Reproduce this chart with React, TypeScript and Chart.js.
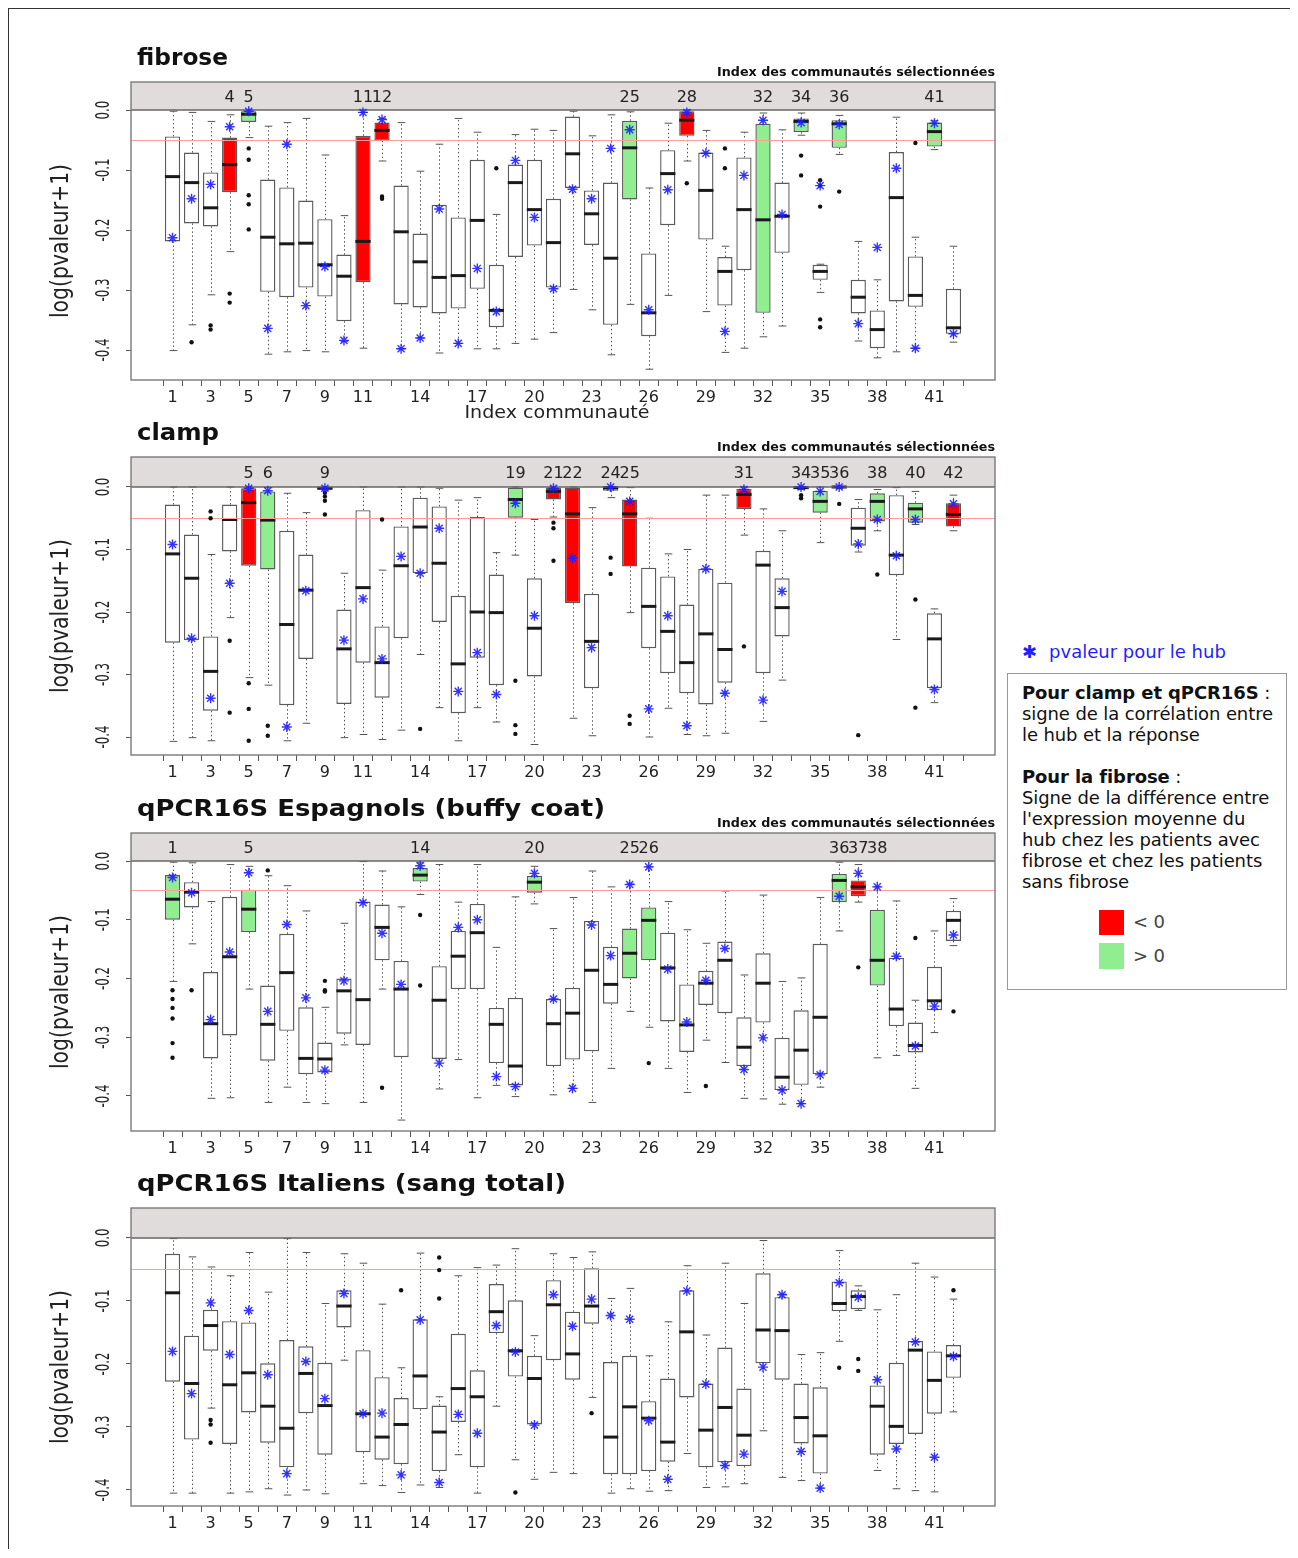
import React, { useEffect, useRef } from "react";
import { Chart, registerables } from "chart.js";

Chart.register(...registerables);

// ---------- shared axis data ----------
const CATEGORIES = [1, 2, 3, 4, 5, 6, 7, 8, 9, 10, 11, 12, 13, 14, 15, 16, 17, 18, 19, 20, 21, 22, 23, 24, 25, 26, 27, 28, 29, 30, 31, 32, 33, 34, 35, 36, 37, 38, 39, 40, 41, 42];
const X_TICK_LABELS = [1, 3, 5, 7, 9, 11, 14, 17, 20, 23, 26, 29, 32, 35, 38, 41];
const Y_TICKS = [0, -0.1, -0.2, -0.3, -0.4];
const THRESHOLD = -0.05;

// ---------- fibrose ----------
const FIB_LO = [-0.401, -0.358, -0.308, -0.236, -0.046, -0.407, -0.403, -0.401, -0.403, -0.386, -0.397, -0.085, -0.398, -0.380, -0.405, -0.389, -0.398, -0.398, -0.389, -0.382, -0.371, -0.299, -0.333, -0.408, -0.324, -0.432, -0.309, -0.085, -0.336, -0.404, -0.397, -0.378, -0.360, -0.042, -0.304, -0.074, -0.385, -0.413, -0.403, -0.397, -0.066, -0.387];
const FIB_Q1 = [-0.219, -0.189, -0.194, -0.137, -0.020, -0.303, -0.312, -0.296, -0.311, -0.352, -0.287, -0.051, -0.324, -0.329, -0.339, -0.331, -0.298, -0.362, -0.245, -0.226, -0.296, -0.130, -0.225, -0.358, -0.149, -0.377, -0.192, -0.043, -0.216, -0.326, -0.267, -0.338, -0.238, -0.037, -0.283, -0.063, -0.339, -0.397, -0.319, -0.328, -0.061, -0.373];
const FIB_MED = [-0.111, -0.121, -0.163, -0.091, -0.007, -0.212, -0.223, -0.222, -0.258, -0.277, -0.219, -0.034, -0.203, -0.253, -0.279, -0.276, -0.184, -0.334, -0.121, -0.166, -0.221, -0.073, -0.173, -0.247, -0.063, -0.338, -0.106, -0.017, -0.134, -0.269, -0.166, -0.183, -0.177, -0.019, -0.269, -0.023, -0.312, -0.366, -0.146, -0.309, -0.036, -0.363];
const FIB_Q3 = [-0.044, -0.071, -0.104, -0.046, -0.002, -0.116, -0.129, -0.151, -0.182, -0.241, -0.043, -0.021, -0.126, -0.206, -0.158, -0.179, -0.083, -0.258, -0.091, -0.083, -0.148, -0.011, -0.134, -0.121, -0.018, -0.239, -0.067, -0.002, -0.071, -0.245, -0.079, -0.023, -0.121, -0.014, -0.258, -0.017, -0.283, -0.334, -0.070, -0.244, -0.021, -0.298];
const FIB_HI = [-0.002, -0.004, -0.019, -0.008, 0, -0.027, -0.021, -0.014, -0.075, -0.176, -0.004, -0.014, -0.021, -0.102, -0.057, -0.014, -0.037, -0.174, -0.041, -0.032, -0.034, -0.002, -0.043, -0.008, -0.003, -0.130, -0.022, 0, -0.034, -0.227, -0.037, -0.005, -0.033, -0.005, -0.257, -0.009, -0.219, -0.283, -0.012, -0.212, -0.018, -0.227];
const FIB_HUB = [-0.213, -0.148, -0.124, -0.028, -0.002, -0.364, -0.057, -0.326, -0.261, -0.384, -0.004, -0.016, -0.398, -0.380, -0.165, -0.389, -0.264, -0.336, -0.084, -0.179, -0.298, -0.132, -0.148, -0.064, -0.033, -0.333, -0.133, -0.004, -0.072, -0.369, -0.109, -0.017, -0.174, -0.021, -0.126, -0.024, -0.356, -0.229, -0.097, -0.397, -0.022, -0.373];
const FIB_OUT = [[2, -0.387], [3, -0.359], [3, -0.366], [4, -0.306], [4, -0.321], [5, -0.064], [5, -0.083], [5, -0.142], [5, -0.157], [5, -0.199], [12, -0.144], [12, -0.148], [18, -0.097], [28, -0.122], [30, -0.064], [30, -0.097], [34, -0.076], [34, -0.109], [35, -0.117], [35, -0.126], [35, -0.161], [35, -0.349], [35, -0.362], [36, -0.136], [40, -0.055]];
const FIB_NEG = [4, 11, 12, 28];
const FIB_POS = [5, 25, 32, 34, 36, 41];

// ---------- clamp ----------
const CLA_LO = [-0.407, -0.401, -0.406, -0.209, -0.305, -0.317, -0.406, -0.378, -0.005, -0.401, -0.396, -0.404, -0.389, -0.268, -0.353, -0.406, -0.353, -0.376, -0.109, -0.412, -0.048, -0.370, -0.398, -0.017, -0.201, -0.400, -0.354, -0.396, -0.398, -0.394, -0.077, -0.375, -0.309, -0.004, -0.089, -0.002, -0.104, -0.070, -0.244, -0.060, -0.345, -0.070];
const CLA_Q1 = [-0.249, -0.245, -0.358, -0.103, -0.126, -0.132, -0.349, -0.275, -0.004, -0.347, -0.281, -0.337, -0.242, -0.138, -0.216, -0.362, -0.273, -0.317, -0.049, -0.303, -0.020, -0.186, -0.322, -0.006, -0.127, -0.258, -0.298, -0.330, -0.348, -0.313, -0.035, -0.298, -0.239, -0.003, -0.041, -0.001, -0.094, -0.055, -0.141, -0.057, -0.322, -0.063];
const CLA_MED = [-0.107, -0.146, -0.295, -0.052, -0.025, -0.053, -0.220, -0.165, -0.002, -0.259, -0.161, -0.281, -0.126, -0.064, -0.122, -0.283, -0.200, -0.201, -0.020, -0.226, -0.007, -0.043, -0.247, -0.001, -0.043, -0.191, -0.231, -0.281, -0.235, -0.260, -0.012, -0.125, -0.193, -0.001, -0.023, 0, -0.066, -0.023, -0.109, -0.035, -0.243, -0.044];
const CLA_Q3 = [-0.028, -0.076, -0.239, -0.028, -0.002, -0.007, -0.070, -0.108, 0, -0.196, -0.037, -0.223, -0.063, -0.017, -0.031, -0.174, -0.048, -0.140, -0.001, -0.146, 0, 0, -0.171, 0, -0.020, -0.129, -0.143, -0.188, -0.131, -0.153, -0.003, -0.102, -0.146, 0, -0.006, 0, -0.033, -0.010, -0.013, -0.025, -0.202, -0.026];
const CLA_HI = [0, 0, -0.108, 0, -0.001, -0.001, -0.010, -0.041, 0, -0.138, 0, -0.133, 0, 0, -0.002, -0.021, -0.017, -0.105, 0, -0.052, 0, 0, -0.033, 0, -0.001, -0.050, -0.107, -0.100, -0.013, -0.013, 0, -0.035, -0.070, 0, 0, 0, -0.020, -0.004, -0.001, -0.007, -0.195, -0.013];
const CLA_HUB = [-0.092, -0.242, -0.338, -0.154, -0.002, -0.006, -0.384, -0.166, -0.002, -0.245, -0.179, -0.275, -0.111, -0.138, -0.066, -0.327, -0.265, -0.332, -0.026, -0.206, -0.002, -0.114, -0.257, 0, -0.023, -0.355, -0.206, -0.382, -0.131, -0.330, -0.004, -0.341, -0.167, 0, -0.007, 0, -0.091, -0.052, -0.110, -0.052, -0.324, -0.027];
const CLA_OUT = [[3, -0.039], [3, -0.050], [4, -0.246], [4, -0.361], [5, -0.314], [5, -0.355], [5, -0.406], [6, -0.382], [6, -0.398], [9, -0.009], [9, -0.015], [9, -0.022], [9, -0.044], [12, -0.052], [14, -0.387], [19, -0.310], [19, -0.381], [19, -0.395], [21, -0.057], [21, -0.066], [21, -0.118], [24, -0.113], [24, -0.139], [25, -0.366], [25, -0.379], [31, -0.255], [34, -0.013], [34, -0.018], [36, -0.027], [37, -0.397], [38, -0.140], [40, -0.180], [40, -0.353]];
const CLA_NEG = [5, 9, 21, 22, 25, 31, 34, 36, 42];
const CLA_POS = [6, 19, 24, 35, 38, 40];

// ---------- qPCR16S Espagnols ----------
const ESP_LO = [-0.205, -0.141, -0.404, -0.403, -0.218, -0.411, -0.385, -0.411, -0.413, -0.313, -0.411, -0.218, -0.441, -0.057, -0.388, -0.338, -0.403, -0.382, -0.401, -0.073, -0.398, -0.387, -0.411, -0.353, -0.256, -0.283, -0.353, -0.394, -0.305, -0.343, -0.404, -0.405, -0.414, -0.413, -0.385, -0.119, -0.070, -0.335, -0.331, -0.387, -0.292, -0.144];
const ESP_Q1 = [-0.100, -0.079, -0.336, -0.297, -0.121, -0.340, -0.289, -0.363, -0.360, -0.294, -0.313, -0.169, -0.334, -0.035, -0.337, -0.218, -0.218, -0.344, -0.382, -0.054, -0.349, -0.338, -0.324, -0.243, -0.200, -0.169, -0.273, -0.325, -0.245, -0.259, -0.349, -0.275, -0.390, -0.381, -0.363, -0.070, -0.060, -0.212, -0.281, -0.326, -0.254, -0.136];
const ESP_MED = [-0.065, -0.053, -0.277, -0.163, -0.082, -0.278, -0.190, -0.336, -0.337, -0.221, -0.236, -0.113, -0.218, -0.024, -0.237, -0.162, -0.122, -0.278, -0.349, -0.036, -0.277, -0.259, -0.186, -0.210, -0.157, -0.101, -0.182, -0.279, -0.208, -0.169, -0.317, -0.208, -0.368, -0.322, -0.266, -0.033, -0.044, -0.169, -0.252, -0.314, -0.238, -0.101];
const ESP_Q3 = [-0.024, -0.036, -0.189, -0.061, -0.049, -0.212, -0.124, -0.249, -0.309, -0.200, -0.069, -0.074, -0.170, -0.012, -0.179, -0.119, -0.073, -0.250, -0.233, -0.025, -0.235, -0.216, -0.102, -0.146, -0.115, -0.079, -0.122, -0.210, -0.187, -0.137, -0.266, -0.157, -0.301, -0.254, -0.141, -0.022, -0.033, -0.083, -0.165, -0.275, -0.180, -0.085];
const ESP_HI = [-0.002, -0.003, -0.069, -0.006, -0.009, -0.025, -0.042, -0.085, -0.249, -0.106, -0.001, -0.017, -0.078, -0.003, -0.006, -0.070, -0.006, -0.147, -0.061, -0.009, -0.115, -0.062, -0.017, -0.044, -0.039, -0.010, -0.069, -0.117, -0.140, -0.051, -0.194, -0.058, -0.205, -0.199, -0.062, -0.002, -0.006, -0.044, -0.068, -0.237, -0.119, -0.064];
const ESP_HUB = [-0.028, -0.054, -0.270, -0.155, -0.020, -0.256, -0.108, -0.233, -0.356, -0.204, -0.071, -0.123, -0.210, -0.008, -0.344, -0.113, -0.100, -0.367, -0.384, -0.021, -0.235, -0.387, -0.109, -0.161, -0.040, -0.010, -0.184, -0.274, -0.203, -0.149, -0.355, -0.301, -0.390, -0.413, -0.364, -0.060, -0.021, -0.044, -0.162, -0.315, -0.247, -0.126];
const ESP_OUT = [[1, -0.220], [1, -0.235], [1, -0.250], [1, -0.268], [1, -0.310], [1, -0.335], [2, -0.220], [6, -0.016], [9, -0.204], [9, -0.220], [9, -0.222], [12, -0.386], [14, -0.092], [14, -0.212], [26, -0.344], [29, -0.383], [37, -0.181], [40, -0.131], [42, -0.256]];
const ESP_NEG = [37];
const ESP_POS = [1, 5, 14, 20, 25, 26, 36, 38];

// ---------- qPCR16S Italiens ----------
const ITA_LO = [-0.405, -0.405, -0.270, -0.405, -0.403, -0.398, -0.408, -0.400, -0.406, -0.194, -0.390, -0.393, -0.404, -0.392, -0.396, -0.344, -0.405, -0.267, -0.352, -0.383, -0.372, -0.374, -0.253, -0.405, -0.398, -0.402, -0.401, -0.342, -0.396, -0.395, -0.390, -0.306, -0.380, -0.385, -0.397, -0.164, -0.115, -0.369, -0.398, -0.401, -0.403, -0.276];
const ITA_Q1 = [-0.228, -0.320, -0.179, -0.327, -0.277, -0.325, -0.364, -0.278, -0.344, -0.142, -0.340, -0.352, -0.359, -0.272, -0.370, -0.292, -0.364, -0.151, -0.220, -0.296, -0.194, -0.225, -0.136, -0.375, -0.375, -0.370, -0.355, -0.253, -0.364, -0.356, -0.362, -0.199, -0.225, -0.326, -0.374, -0.116, -0.113, -0.344, -0.327, -0.311, -0.279, -0.222];
const ITA_MED = [-0.087, -0.231, -0.139, -0.233, -0.214, -0.267, -0.302, -0.215, -0.266, -0.108, -0.279, -0.316, -0.296, -0.219, -0.308, -0.239, -0.252, -0.117, -0.179, -0.223, -0.106, -0.184, -0.108, -0.316, -0.268, -0.286, -0.324, -0.149, -0.305, -0.269, -0.313, -0.146, -0.147, -0.285, -0.314, -0.104, -0.093, -0.267, -0.299, -0.178, -0.226, -0.187];
const ITA_Q3 = [-0.025, -0.155, -0.114, -0.132, -0.134, -0.199, -0.162, -0.172, -0.198, -0.083, -0.178, -0.221, -0.254, -0.129, -0.266, -0.152, -0.210, -0.073, -0.099, -0.187, -0.067, -0.117, -0.048, -0.197, -0.187, -0.259, -0.223, -0.083, -0.231, -0.174, -0.239, -0.056, -0.094, -0.231, -0.237, -0.069, -0.083, -0.234, -0.198, -0.163, -0.180, -0.170];
const ITA_HI = [-0.001, -0.030, -0.046, -0.060, -0.023, -0.086, -0.001, -0.023, -0.104, -0.025, -0.040, -0.105, -0.206, -0.024, -0.252, -0.060, -0.047, -0.043, -0.017, -0.155, -0.025, -0.031, -0.022, -0.096, -0.080, -0.187, -0.133, -0.044, -0.154, -0.040, -0.104, -0.004, -0.089, -0.185, -0.182, -0.020, -0.076, -0.114, -0.090, -0.040, -0.062, -0.097];
const ITA_HUB = [-0.180, -0.247, -0.103, -0.185, -0.115, -0.217, -0.374, -0.196, -0.255, -0.088, -0.279, -0.278, -0.376, -0.130, -0.388, -0.280, -0.310, -0.139, -0.181, -0.297, -0.090, -0.140, -0.097, -0.123, -0.129, -0.290, -0.383, -0.084, -0.232, -0.361, -0.343, -0.205, -0.090, -0.339, -0.397, -0.071, -0.094, -0.225, -0.335, -0.165, -0.348, -0.188];
const ITA_OUT = [[3, -0.289], [3, -0.296], [3, -0.325], [13, -0.083], [15, -0.031], [15, -0.051], [15, -0.096], [19, -0.404], [23, -0.278], [36, -0.206], [37, -0.192], [37, -0.211], [42, -0.083]];
const ITA_NEG: number[] = [];
const ITA_POS: number[] = [];

// ---------- styling ----------
const RED = "#FF0000";
const GREEN = "#90EE90";
const STRIP_FILL = "#E1DCDC";
const FRAME = "#7a7a7a";
const HUB_COLOR = "rgba(30,30,255,0.9)";
const FONT = '"DejaVu Sans", sans-serif';
const BOX_INDEX = 2;

const PANELS = [
  { key: "fib", title: "fibrose", titleW: 91, top: 82, yMin: -0.45, yMax: 0.0467, lo: FIB_LO, q1: FIB_Q1, med: FIB_MED, q3: FIB_Q3, hi: FIB_HI, hub: FIB_HUB, out: FIB_OUT, neg: FIB_NEG, pos: FIB_POS, caption: true, xTitle: "Index communauté" },
  { key: "cla", title: "clamp", titleW: 82, top: 457, yMin: -0.4288, yMax: 0.048, lo: CLA_LO, q1: CLA_Q1, med: CLA_MED, q3: CLA_Q3, hi: CLA_HI, hub: CLA_HUB, out: CLA_OUT, neg: CLA_NEG, pos: CLA_POS, caption: true, xTitle: "" },
  { key: "esp", title: "qPCR16S Espagnols (buffy coat)", titleW: 468, top: 833, yMin: -0.4596, yMax: 0.0477, lo: ESP_LO, q1: ESP_Q1, med: ESP_MED, q3: ESP_Q3, hi: ESP_HI, hub: ESP_HUB, out: ESP_OUT, neg: ESP_NEG, pos: ESP_POS, caption: true, xTitle: "" },
  { key: "ita", title: "qPCR16S Italiens (sang total)", titleW: 429, top: 1208, yMin: -0.4254, yMax: 0.0476, lo: ITA_LO, q1: ITA_Q1, med: ITA_MED, q3: ITA_Q3, hi: ITA_HI, hub: ITA_HUB, out: ITA_OUT, neg: ITA_NEG, pos: ITA_POS, caption: false, xTitle: "" },
];

function fitText(ctx: CanvasRenderingContext2D, text: string, x: number, y: number, width: number, align: CanvasTextAlign) {
  const w = ctx.measureText(text).width;
  ctx.save();
  ctx.translate(x, y);
  ctx.scale(width / w, 1);
  ctx.textAlign = align;
  ctx.fillText(text, 0, 0);
  ctx.restore();
}

function makePlugin(p: any) {
  return {
    id: "boxdecor-" + p.key,
    beforeDatasetsDraw(chart: any) {
      const { ctx, chartArea: a, scales } = chart;
      const xs = scales.x;
      const ys = scales.y;
      const y0 = ys.getPixelForValue(0);
      ctx.save();
      ctx.fillStyle = STRIP_FILL;
      ctx.fillRect(a.left, a.top, a.right - a.left, y0 - a.top);
      const meta = chart.getDatasetMeta(BOX_INDEX);
      ctx.strokeStyle = "#555";
      ctx.lineWidth = 1;
      CATEGORIES.forEach((c, i) => {
        const el = meta.data[i];
        const px = Math.round(xs.getPixelForValue(c)) + 0.5;
        const half = el.width / 4;
        const yHi = ys.getPixelForValue(p.hi[i]);
        const yQ3 = ys.getPixelForValue(p.q3[i]);
        const yQ1 = ys.getPixelForValue(p.q1[i]);
        const yLo = ys.getPixelForValue(p.lo[i]);
        ctx.setLineDash([1.5, 2.5]);
        ctx.beginPath();
        ctx.moveTo(px, yQ3);
        ctx.lineTo(px, yHi);
        ctx.moveTo(px, yQ1);
        ctx.lineTo(px, yLo);
        ctx.stroke();
        ctx.setLineDash([]);
        ctx.beginPath();
        ctx.moveTo(px - half, yHi);
        ctx.lineTo(px + half, yHi);
        ctx.moveTo(px - half, yLo);
        ctx.lineTo(px + half, yLo);
        ctx.stroke();
      });
      ctx.restore();
    },
    afterDatasetDraw(chart: any, args: any) {
      if (args.index !== BOX_INDEX) return;
      const { ctx, chartArea: a, scales } = chart;
      const ys = scales.y;
      const meta = chart.getDatasetMeta(BOX_INDEX);
      ctx.save();
      ctx.strokeStyle = "#1a1a1a";
      ctx.lineWidth = 3;
      CATEGORIES.forEach((c, i) => {
        const el = meta.data[i];
        const ym = ys.getPixelForValue(p.med[i]);
        ctx.beginPath();
        ctx.moveTo(el.x - el.width / 2, ym);
        ctx.lineTo(el.x + el.width / 2, ym);
        ctx.stroke();
      });
      // threshold line
      const yt = Math.round(ys.getPixelForValue(THRESHOLD)) + 0.5;
      ctx.strokeStyle = "#FF9C9C";
      ctx.lineWidth = 1;
      ctx.beginPath();
      ctx.moveTo(a.left, yt);
      ctx.lineTo(a.right, yt);
      ctx.stroke();
      // strip bottom line
      const y0 = ys.getPixelForValue(0);
      ctx.strokeStyle = "#666";
      ctx.lineWidth = 1.3;
      ctx.beginPath();
      ctx.moveTo(a.left, y0);
      ctx.lineTo(a.right, y0);
      ctx.stroke();
      ctx.restore();
    },
    afterDraw(chart: any) {
      const { ctx, chartArea: a, scales } = chart;
      const xs = scales.x;
      const ys = scales.y;
      const y0 = ys.getPixelForValue(0);
      ctx.save();
      // frame
      ctx.strokeStyle = FRAME;
      ctx.lineWidth = 1.4;
      ctx.strokeRect(a.left, a.top, a.right - a.left, a.bottom - a.top);
      // selected community labels
      ctx.fillStyle = "#222";
      ctx.font = `16px ${FONT}`;
      ctx.textAlign = "center";
      ctx.textBaseline = "middle";
      const sel = [...p.neg, ...p.pos].sort((m: number, n: number) => m - n);
      sel.forEach((c: number) => {
        ctx.fillText(String(c), xs.getPixelForValue(c), (a.top + y0) / 2 + 2);
      });
      // y tick labels (rotated)
      Y_TICKS.forEach((v) => {
        ctx.save();
        ctx.translate(a.left - 27, ys.getPixelForValue(v));
        ctx.rotate(-Math.PI / 2);
        ctx.scale(0.62, 1);
        ctx.font = `19px ${FONT}`;
        ctx.textAlign = "center";
        ctx.textBaseline = "middle";
        ctx.fillText(v.toFixed(1), 0, 0);
        ctx.restore();
      });
      // y title
      ctx.save();
      ctx.translate(a.left - 69, (a.top + a.bottom) / 2 + 10);
      ctx.rotate(-Math.PI / 2);
      ctx.scale(0.85, 1);
      ctx.font = `24px ${FONT}`;
      ctx.textAlign = "center";
      ctx.textBaseline = "middle";
      ctx.fillText("log(pvaleur+1)", 0, 0);
      ctx.restore();
      // panel title
      ctx.fillStyle = "#111";
      ctx.font = `bold 23px ${FONT}`;
      ctx.textBaseline = "middle";
      fitText(ctx, p.title, a.left + 6, a.top - 23, p.titleW, "left");
      // caption
      if (p.caption) {
        ctx.font = `bold 13px ${FONT}`;
        ctx.textBaseline = "middle";
        fitText(ctx, "Index des communautés sélectionnées", a.right, a.top - 9, 278, "right");
      }
      if (p.xTitle) {
        ctx.fillStyle = "#222";
        ctx.font = `17px ${FONT}`;
        ctx.textBaseline = "middle";
        fitText(ctx, p.xTitle, a.left + 426, a.bottom + 34, 185, "center");
      }
      ctx.restore();
    },
  };
}

function Panel({ p }: { p: any }) {
  const ref = useRef<HTMLCanvasElement>(null);
  useEffect(() => {
    const canvas = ref.current;
    if (!canvas) return;
    const boxColors = CATEGORIES.map((c) => (p.neg.includes(c) ? RED : p.pos.includes(c) ? GREEN : "#FFFFFF"));
    const chart = new Chart(canvas, {
      type: "bar",
      data: {
        datasets: [
          {
            type: "scatter",
            label: "hub",
            data: CATEGORIES.map((c, i) => ({ x: c, y: p.hub[i] })),
            pointStyle: "star",
            pointRadius: 5,
            borderColor: HUB_COLOR,
            backgroundColor: HUB_COLOR,
            borderWidth: 1.4,
            order: 0,
          },
          {
            type: "scatter",
            label: "outliers",
            data: p.out.map((o: number[]) => ({ x: o[0], y: o[1] })),
            pointStyle: "circle",
            pointRadius: 2.2,
            backgroundColor: "#111",
            borderWidth: 0,
            order: 1,
          },
          {
            type: "bar",
            label: "box",
            data: CATEGORIES.map((c, i) => ({ x: c, y: [p.q1[i], p.q3[i]] })),
            backgroundColor: boxColors,
            borderColor: "#5a5a5a",
            borderWidth: 1.4,
            borderSkipped: false,
            barPercentage: 0.8,
            categoryPercentage: 1,
            order: 2,
          },
        ],
      } as any,
      options: {
        animation: false,
        responsive: false,
        maintainAspectRatio: false,
        events: [],
        layout: { padding: { top: 50, right: 10, bottom: 0, left: 0 } },
        plugins: { legend: { display: false }, tooltip: { enabled: false }, title: { display: false } },
        scales: {
          x: {
            type: "linear",
            min: -1.18,
            max: 44.18,
            offset: false,
            afterBuildTicks: (axis: any) => {
              axis.ticks = CATEGORIES.map((v) => ({ value: v }));
            },
            afterFit: (s: any) => {
              s.height = 52;
            },
            ticks: {
              autoSkip: false,
              maxRotation: 0,
              minRotation: 0,
              padding: 2,
              color: "#222",
              font: { family: "DejaVu Sans", size: 16 },
              callback: (v: any) => (X_TICK_LABELS.includes(Number(v)) ? String(v) : ""),
            },
            grid: { display: true, drawOnChartArea: false, drawTicks: true, tickLength: 6, color: "#555" },
            border: { display: false },
          },
          y: {
            type: "linear",
            min: p.yMin,
            max: p.yMax,
            afterBuildTicks: (axis: any) => {
              axis.ticks = Y_TICKS.map((v) => ({ value: v }));
            },
            afterFit: (s: any) => {
              s.width = 111;
            },
            ticks: { display: false },
            grid: { display: true, drawOnChartArea: false, drawTicks: true, tickLength: 5, color: "#555" },
            border: { display: false },
          },
        },
      } as any,
      plugins: [makePlugin(p)],
    });
    return () => chart.destroy();
  }, [p]);
  return (
    <canvas
      ref={ref}
      width={985}
      height={400}
      style={{ position: "absolute", left: 11, top: p.top - 59, width: 985, height: 400, display: "block" }}
    />
  );
}

const LEGEND_LINES = [
  { bold: "Pour clamp et qPCR16S", rest: " :" },
  { bold: "", rest: "signe de la corrélation entre" },
  { bold: "", rest: "le hub et la réponse" },
  { bold: "", rest: "\u00a0" },
  { bold: "Pour la fibrose", rest: " :" },
  { bold: "", rest: "Signe de la différence entre" },
  { bold: "", rest: "l'expression moyenne du" },
  { bold: "", rest: "hub chez les patients avec" },
  { bold: "", rest: "fibrose et chez les patients" },
  { bold: "", rest: "sans fibrose" },
];

export default function App() {
  return (
    <div
      style={{
        position: "relative",
        width: 1290,
        height: 1549,
        marginBottom: -8,
        border: "1px solid #333",
        boxSizing: "border-box",
        background: "#fff",
        fontFamily: FONT,
        overflow: "hidden",
      }}
    >
      {PANELS.map((p) => (
        <Panel key={p.key} p={p} />
      ))}
      <div
        style={{
          position: "absolute",
          left: 1013,
          top: 632,
          lineHeight: "22px",
          fontSize: 18,
          color: "#1f1fff",
          whiteSpace: "nowrap",
        }}
      >
        <span style={{ fontWeight: "bold", marginRight: 12 }}>✱</span>pvaleur pour le hub
      </div>
      <div
        style={{
          position: "absolute",
          left: 998,
          top: 664,
          width: 280,
          height: 317,
          border: "1px solid #999",
          boxSizing: "border-box",
          padding: "8px 0 0 14px",
          fontSize: 18,
          lineHeight: "21px",
          color: "#111",
          whiteSpace: "nowrap",
          letterSpacing: -0.1,
        }}
      >
        {LEGEND_LINES.map((l, i) => (
          <div key={i}>
            {l.bold ? <b>{l.bold}</b> : null}
            {l.rest}
          </div>
        ))}
        <div style={{ position: "absolute", left: 91, top: 236, width: 25, height: 25, background: RED }} />
        <div style={{ position: "absolute", left: 91, top: 269, width: 25, height: 26, background: GREEN }} />
        <div style={{ position: "absolute", left: 125, top: 237, lineHeight: "22px", color: "#444" }}>&lt; 0</div>
        <div style={{ position: "absolute", left: 125, top: 271, lineHeight: "22px", color: "#444" }}>&gt; 0</div>
      </div>
    </div>
  );
}
